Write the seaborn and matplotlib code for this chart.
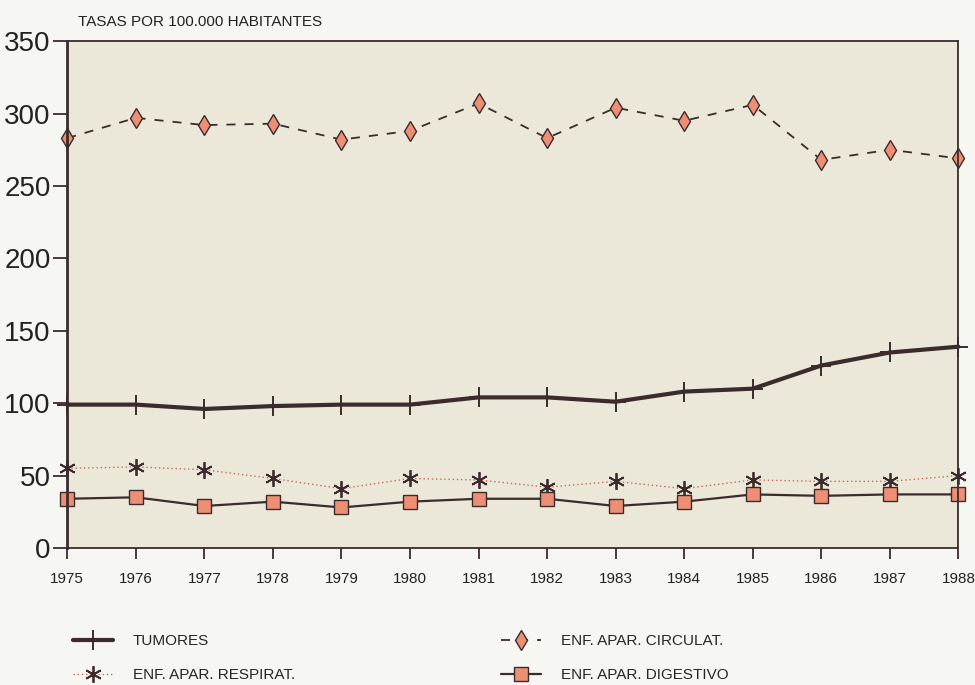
import seaborn as sns
import pandas as pd
import matplotlib.pyplot as plt

years = list(range(1975, 1989))
tumores = [99, 99, 96, 98, 99, 99, 104, 104, 101, 108, 110, 126, 135, 139]
respirat = [55, 56, 54, 48, 41, 48, 47, 42, 46, 41, 47, 46, 46, 50]
circulat = [283, 297, 292, 293, 282, 288, 307, 283, 304, 295, 306, 268, 275, 269]
digestivo = [34, 35, 29, 32, 28, 32, 34, 34, 29, 32, 37, 36, 37, 37]

dark = '#3b2b2c'
salmon = '#ec8f74'

sns.set_style('white')
plt.rcParams['font.family'] = ['Liberation Sans', 'DejaVu Sans']

fig = plt.figure(figsize=(9.75, 6.85), dpi=100, facecolor='#f6f6f3')
ax = fig.add_axes([0.069, 0.2, 0.914, 0.74])
ax.set_facecolor('#ebe8da')

df = pd.DataFrame({'year': years, 'tumores': tumores, 'respirat': respirat,
                   'circulat': circulat, 'digestivo': digestivo})

sns.lineplot(data=df, x='year', y='tumores', ax=ax, color=dark, lw=3,
             marker='+', markersize=15, markeredgecolor=dark,
             markeredgewidth=1.4, label='TUMORES')
sns.lineplot(data=df, x='year', y='respirat', ax=ax, color='#c06a5a', lw=1.0,
             linestyle=(0, (1, 2)), marker=(6, 2, 0), markersize=12,
             markeredgecolor=dark, markeredgewidth=1.3, label='ENF. APAR. RESPIRAT.')
sns.lineplot(data=df, x='year', y='circulat', ax=ax, color=dark, lw=1.3,
             linestyle=(0, (5, 5)), marker='d', markersize=10,
             markerfacecolor=salmon, markeredgecolor=dark, markeredgewidth=1.0,
             label='ENF. APAR. CIRCULAT.')
sns.lineplot(data=df, x='year', y='digestivo', ax=ax, color=dark, lw=1.6,
             marker='s', markersize=10, markerfacecolor=salmon,
             markeredgecolor=dark, markeredgewidth=1.0, label='ENF. APAR. DIGESTIVO')

ax.set_xlim(1975, 1988)
ax.set_ylim(0, 350)
ax.set_yticks([0, 50, 100, 150, 200, 250, 300, 350])
ax.set_xticks(years)
ax.set_xlabel('')
ax.set_ylabel('')
for s in ax.spines.values():
    s.set_color(dark)
    s.set_linewidth(1.3)
ax.spines['left'].set_linewidth(2)
ax.tick_params(axis='y', left=True, direction='out', length=10, width=1.3, color=dark,
               labelsize=20, labelcolor='#222222', pad=2)
ax.tick_params(axis='x', bottom=True, direction='out', length=8, width=1.3, color=dark,
               labelsize=11, labelcolor='#222222', pad=9)
for ln in ax.lines:
    ln.set_clip_on(False)

fig.text(0.08, 0.962, 'TASAS POR 100.000 HABITANTES', fontsize=11, color='#222222')

ax.legend(loc='upper left', bbox_to_anchor=(0.0, -0.158), ncol=2, frameon=False,
          fontsize=11, columnspacing=13.5, handlelength=2.6, handletextpad=1.3,
          labelspacing=1.3, borderaxespad=0)

plt.savefig('out.png', dpi=100, facecolor=fig.get_facecolor())
